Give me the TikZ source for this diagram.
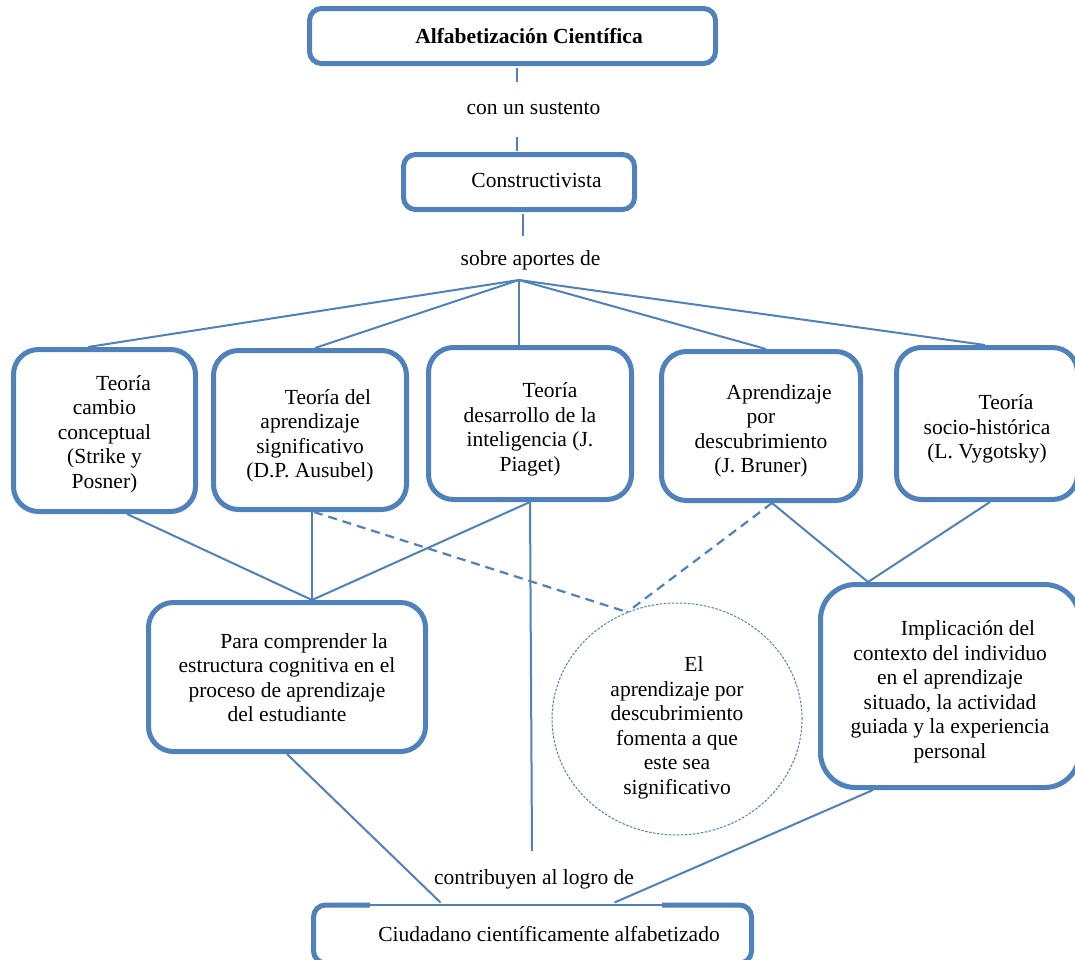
\documentclass[tikz,border=0pt]{standalone}
\usepackage{fontspec}
\setmainfont{Liberation Serif}
\usetikzlibrary{shapes.geometric,calc}
\definecolor{bl}{RGB}{79,129,189}
\newcommand\lowtext[2][5pt]{\raisebox{-#1}[\height][\depth]{\begin{tabular}{@{}c@{}}#2\end{tabular}}}
\begin{document}
\begin{tikzpicture}[x=1pt,y=-1pt,
  box/.style={draw=bl, line width=5pt, rectangle, rounded corners=#1, align=center, inner sep=0pt, font=\fontsize{21.5pt}{24.5pt}\selectfont},
  box/.default=25pt,
  lbl/.style={align=center, inner sep=2pt, font=\fontsize{21.5pt}{24.5pt}\selectfont},
  conn/.style={draw=bl, line width=2pt},
  dsh/.style={draw=bl, line width=2.2pt, dash pattern=on 9pt off 6pt},
  circbox/.style={ellipse, draw=bl, line width=1pt, dash pattern=on 2.5pt off 1.5pt, inner sep=0pt, align=center, font=\fontsize{21.5pt}{24.5pt}\selectfont},
  ]
\useasboundingbox (0,0) rectangle (1075,959);
\fill[white] (0,0) rectangle (1075,959);
\clip (0,0) rectangle (1075,959);

\node[box=12pt, minimum width=406pt, minimum height=55pt] (top) at (512.5,36) {\lowtext[3pt]{\bfseries\hspace*{33pt}Alfabetización Científica}};
\node[lbl] (l1) at (533.5,109) {con un sustento};
\node[box=12pt, minimum width=231pt, minimum height=55pt] (con) at (519,182) {\lowtext[1pt]{\hspace*{35pt}Constructivista}};
\node[lbl] (l2) at (530.5,260) {sobre aportes de};
\coordinate (fan) at (519,280);

\node[box, minimum width=182pt, minimum height=162pt] (b1) at (104.5,430.5) {\lowtext[4pt]{\hspace*{38pt}Teoría\\cambio\\conceptual\\(Strike y\\Posner)}};
\node[box, minimum width=193pt, minimum height=159pt] (b2) at (310,430) {\lowtext[6pt]{\hspace*{36pt}Teoría del\\aprendizaje\\significativo\\(D.P. Ausubel)}};
\node[box, minimum width=203pt, minimum height=152pt] (b3) at (530,423.5) {\lowtext[6pt]{\hspace*{40pt}Teoría\\desarrollo de la\\inteligencia (J.\\Piaget)}};
\node[box, minimum width=199pt, minimum height=149pt] (b4) at (761,426) {\lowtext[5pt]{\hspace*{36pt}Aprendizaje\\por\\descubrimiento\\(J. Bruner)}};
\node[box, minimum width=181pt, minimum height=152pt] (b5) at (987,423.5) {\lowtext[6pt]{\hspace*{38pt}Teoría\\socio-histórica\\(L. Vygotsky)}};

\node[box, minimum width=277pt, minimum height=149pt] (b6) at (287,677) {\lowtext[3pt]{\hspace*{34pt}Para comprender la\\estructura cognitiva en el\\proceso de aprendizaje\\del estudiante}};
\node[circbox, minimum width=250pt, minimum height=232pt] (circ) at (677,719) {\lowtext[9pt]{\hspace*{34pt}El\\aprendizaje por\\descubrimiento\\fomenta a que\\este sea\\significativo}};
\node[box=35pt, minimum width=259pt, minimum height=203pt] (b7) at (950,686) {\lowtext[6pt]{\hspace*{36pt}Implicación del\\contexto del individuo\\en el aprendizaje\\situado, la actividad\\guiada y la experiencia\\personal}};

\node[box=12pt, minimum width=438pt, minimum height=58pt] (bot) at (532.5,934) {\hspace*{33pt}Ciudadano científicamente alfabetizado};
\node[lbl, fill=white, minimum width=292pt, minimum height=57pt, inner sep=0pt] (l3) at (516,879.5) {\hspace*{36pt}contribuyen al logro de};
\draw[draw=bl, line width=1.5pt] ([yshift=3pt]l3.south west) -- ([yshift=3pt]l3.south east);

% connectors
\draw[conn] ([xshift=4.5pt,yshift=-2pt]top.south) -- ++(0,14);
\draw[conn] ([xshift=-2pt,yshift=1pt]con.north) -- ++(0,-14);
\draw[conn] ([xshift=4pt,yshift=-2pt]con.south) -- ++(0,22);

\draw[conn] (fan) -- ([xshift=-16.5pt]b1.north);
\draw[conn] (fan) -- ([xshift=5pt]b2.north);
\draw[conn] (fan) -- (b3.north -| fan);
\draw[conn] (fan) -- ([xshift=5pt]b4.north);
\draw[conn] (fan) -- ([xshift=-2pt]b5.north);

\coordinate (j6) at ([xshift=25pt]b6.north);
\coordinate (j7) at ([xshift=-82pt]b7.north);
\draw[conn] ([xshift=22.5pt]b1.south) -- (j6);
\draw[conn] ([xshift=2pt]b2.south) -- (j6);
\draw[conn] (b3.south) -- (j6);
\draw[conn] (b3.south) -- ([xshift=16pt]l3.north);
\draw[dsh] ([xshift=4pt]b2.south) -- (circ.115);
\draw[dsh] ([xshift=11pt]b4.south) -- (circ.115);
\draw[conn] ([xshift=11pt]b4.south) -- (j7);
\draw[conn] ([xshift=3pt]b5.south) -- (j7);
\draw[conn] (b6.south) -- ([xshift=-92pt]bot.north);
\draw[conn] ([xshift=-77pt]b7.south) -- ([xshift=82pt]bot.north);
\end{tikzpicture}
\end{document}
